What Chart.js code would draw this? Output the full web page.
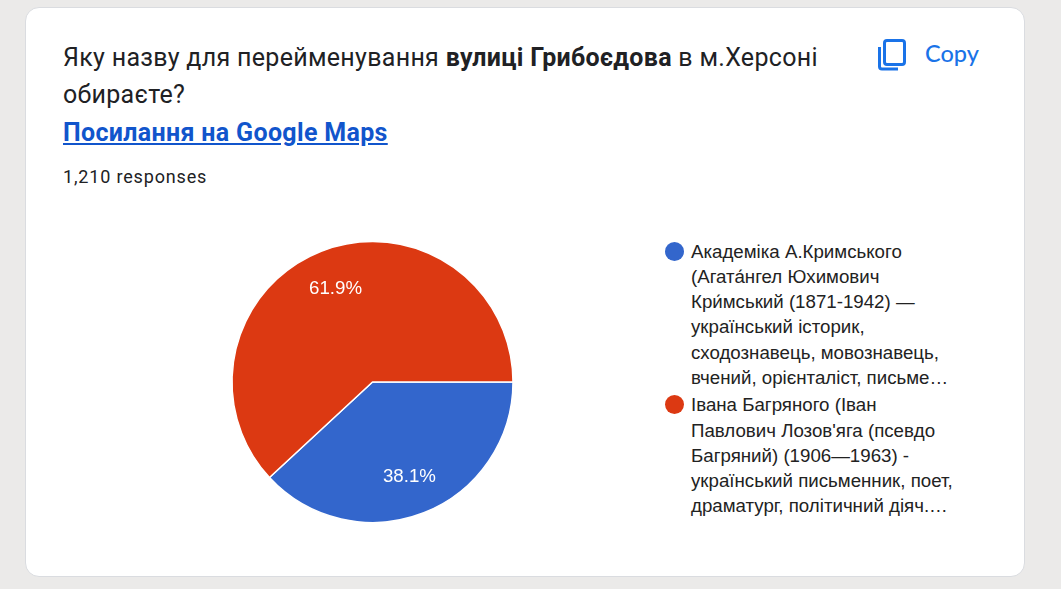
<!DOCTYPE html>
<html lang="uk">
<head>
<meta charset="utf-8">
<title>Вулиця Грибоєдова</title>
<script src="https://cdn.jsdelivr.net/npm/chart.js@4"></script>
<style>
  html, body { margin: 0; padding: 0; }
  body { width: 1061px; height: 589px; background: #ebeae9; position: relative; overflow: hidden; }
  #card { position: absolute; left: 25px; top: 7px; width: 1000px; height: 570px; box-sizing: border-box;
          background: #fff; border: 1px solid #dadce0; border-radius: 14px; }
  .abs { position: absolute; white-space: nowrap; }
  #question { left: 63px; top: 39px; font: 400 25px/37px Roboto, sans-serif; color: #202124; letter-spacing: .3px; }
  #link { left: 63px; top: 117px; font: 700 25px/32px Roboto, sans-serif; color: #1155cc; text-decoration: underline; letter-spacing: .33px; }
  #count { left: 63px; top: 165px; font: 400 18px/24px Roboto, sans-serif; color: #202124; letter-spacing: .83px; }
  #copyText { left: 925px; top: 38px; font: 500 23.5px/30px Lato, sans-serif; color: #1a73e8; }
  #copyIcon { position: absolute; left: 874px; top: 35px; }
  #pie { position: absolute; left: 222px; top: 232px; }
  #legend { position: absolute; left: 664px; top: 238.5px; }
  .entry { position: relative; padding-left: 27px; margin-bottom: 2px; font: 400 18.7px/25.3px "Liberation Sans", Arial, sans-serif; color: #222; white-space: nowrap; }
  .dot { position: absolute; left: 1px; top: 3px; width: 19px; height: 19px; border-radius: 50%; }
</style>
</head>
<body>
<div id="card"></div>
<div class="abs" id="question">Яку назву для перейменування <b>вулиці Грибоєдова</b> в м.Херсоні<br>обираєте?</div>
<div class="abs" id="link">Посилання на Google Maps</div>
<div class="abs" id="count">1,210 responses</div>
<svg id="copyIcon" width="36" height="38" viewBox="0 0 36 38">
  <rect x="10.5" y="5.5" width="20" height="24" rx="2.5" fill="none" stroke="#1a73e8" stroke-width="3"/>
  <path d="M5.5 12 V31.5 A2.5 2.5 0 0 0 8 34 H24" fill="none" stroke="#1a73e8" stroke-width="3"/>
</svg>
<div class="abs" id="copyText">Copy</div>
<canvas id="pie" width="301" height="300"></canvas>
<div id="legend"></div>

<script>
const categories = [
    ['Академіка А.Кримського', '(Агата́нгел Юхимович', 'Кри́мський (1871-1942) —', 'український історик,', 'сходознавець, мовознавець,', 'вчений, орієнталіст, письме…'],
    ['Івана Багряного (Іван', 'Павлович Лозов\'яга (псевдо', 'Багряний) (1906—1963) -', 'український письменник, поет,', 'драматург, політичний діяч.…']
];
const percents = [38.1, 61.9];
const colors = ['#3366cc', '#dc3912'];

// white percentage text placed along each slice's middle angle
const sliceLabels = {
    id: 'sliceLabels',
    afterDatasetsDraw(chart) {
        const { ctx } = chart;
        ctx.save();
        ctx.font = '18.7px "Liberation Sans", Arial, sans-serif';
        ctx.fillStyle = '#fff';
        ctx.textAlign = 'center';
        ctx.textBaseline = 'middle';
        chart.getDatasetMeta(0).data.forEach((arc, i) => {
            const mid = (arc.startAngle + arc.endAngle) / 2;
            const r = arc.outerRadius * 0.72;
            ctx.fillText(percents[i].toFixed(1) + '%', arc.x + Math.cos(mid) * r, arc.y + Math.sin(mid) * r + 1);
        });
        ctx.restore();
    }
};

new Chart(document.getElementById('pie').getContext('2d'), {
    type: 'pie',
    data: {
        labels: categories.map(lines => lines.join(' ')),
        datasets: [{
            data: percents,
            backgroundColor: colors,
            borderColor: '#fff',
            borderWidth: 1.5,
            radius: 140.5,
            rotation: 90
        }]
    },
    options: {
        responsive: false,
        animation: false,
        plugins: { legend: { display: false }, tooltip: { enabled: false } }
    },
    plugins: [sliceLabels]
});

// legend sits in html so the long names wrap the same way every time
const legend = document.getElementById('legend');
categories.forEach((lines, i) => {
    const entry = document.createElement('div');
    entry.className = 'entry';
    const dot = document.createElement('span');
    dot.className = 'dot';
    dot.style.background = colors[i];
    entry.appendChild(dot);
    lines.forEach((line, j) => {
        if (j > 0) entry.appendChild(document.createElement('br'));
        entry.appendChild(document.createTextNode(line));
    });
    legend.appendChild(entry);
});
</script>
</body>
</html>
